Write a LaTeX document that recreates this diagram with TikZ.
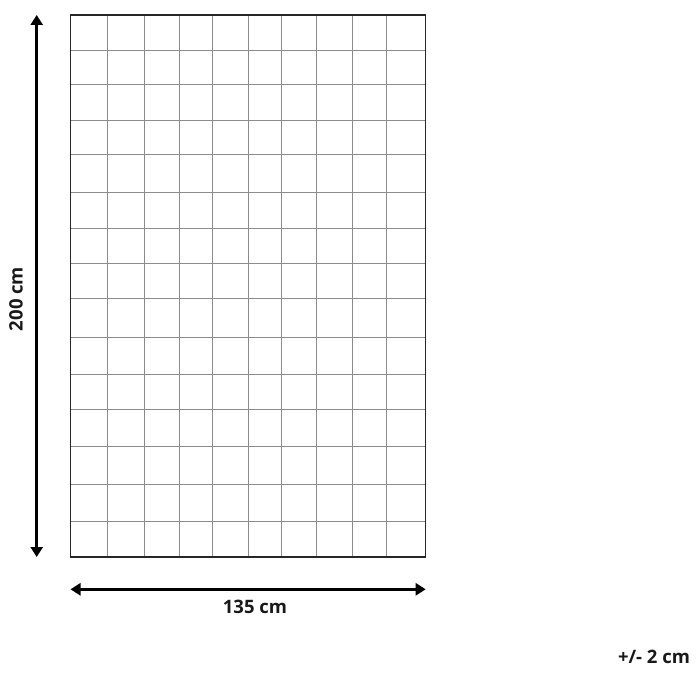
\documentclass[tikz,border=0pt]{standalone}
\usepackage{fontspec}
\setmainfont{Open Sans}
\usetikzlibrary{arrows.meta}
\tikzset{
  gridline/.style={draw=black!45, line width=0.8pt},
  frameline/.style={draw=black!85, line width=1.3pt},
  dimarrow/.style={line width=3.2pt, {Triangle[length=10pt,width=12pt]}-{Triangle[length=10pt,width=12pt]}},
  dimlabel/.style={font=\fontsize{18.5}{20}\selectfont\bfseries, text=black!90, inner sep=0pt}
}
\begin{document}
\begin{tikzpicture}[x=1pt,y=-1pt]
\useasboundingbox (0,0) rectangle (698,676);
% grid
\foreach \xx in {107.3,144.7,179.3,212.3,248.3,281.7,316.7,352,386.7}
  \draw[gridline] (\xx,15) -- (\xx,557);
\foreach \yy in {50.3,84.7,120,154.3,192.7,228.7,263,298.3,337,374,409.7,446.3,484.7,521.3}
  \draw[gridline] (70.5,\yy) -- (425.7,\yy);
\draw[frameline] (70.5,15) rectangle (425.7,557);
% dimension arrows
\coordinate (vtop) at (36.7,15);
\coordinate (vbot) at (36.7,557);
\coordinate (hl) at (70.5,589.3);
\coordinate (hr) at (425.7,589.3);
\draw[dimarrow] (vtop) -- (vbot);
\draw[dimarrow] (hl) -- (hr);
\node[dimlabel, rotate=90] (hlabel) at (16,299) {200 cm};
\node[dimlabel] (wlabel) at (255,606.5) {135 cm};
\node[dimlabel] (tol) at (654,657) {+/- 2 cm};
\end{tikzpicture}
\end{document}
